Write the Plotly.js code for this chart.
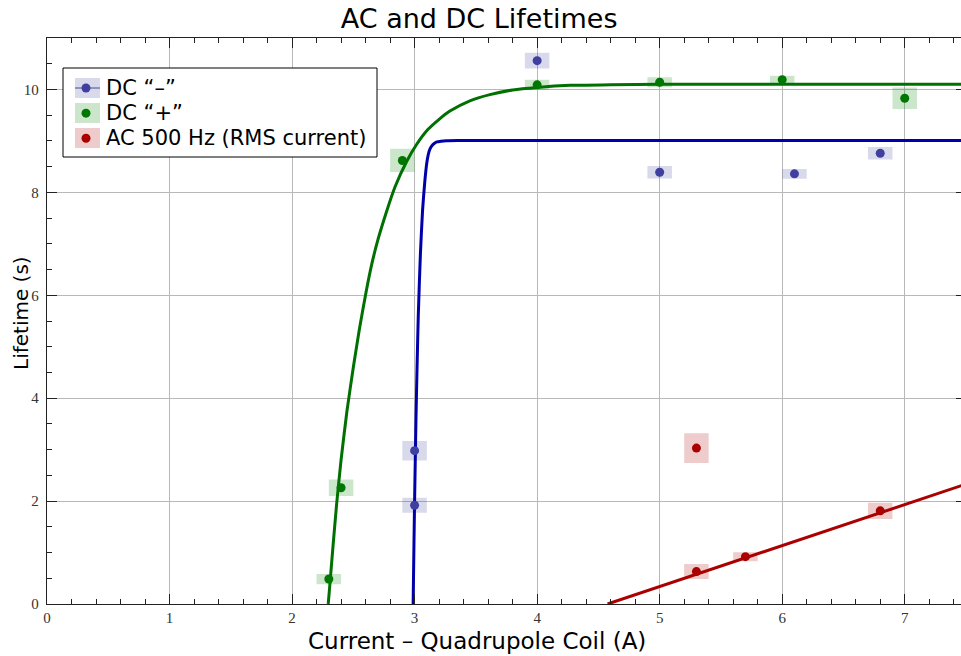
<!DOCTYPE html>
<html><head><meta charset="utf-8">
<script src="https://cdn.plot.ly/plotly-3.0.1.min.js"></script>
<style>html,body{margin:0;padding:0;overflow:hidden;background:#fff}</style>
</head><body><div id="chart"></div>
<script>
// ---- data ----
const dcMinusX = [3.0, 3.0, 4.0, 5.0, 6.1, 6.8];
const dcMinusY = [2.98, 1.92, 10.56, 8.39, 8.36, 8.76];
const dcMinusXErr = [0.1, 0.1, 0.1, 0.1, 0.1, 0.1];
const dcMinusYErr = [0.19, 0.146, 0.155, 0.12, 0.094, 0.123];

const dcPlusX = [2.3, 2.4, 2.9, 4.0, 5.0, 6.0, 7.0];
const dcPlusY = [0.485, 2.26, 8.62, 10.09, 10.14, 10.19, 9.83];
const dcPlusXErr = [0.1, 0.1, 0.1, 0.1, 0.1, 0.1, 0.1];
const dcPlusYErr = [0.10, 0.16, 0.226, 0.10, 0.097, 0.078, 0.21];

const acX = [5.3, 5.3, 5.7, 6.8];
const acY = [3.03, 0.63, 0.92, 1.81];
const acXErr = [0.1, 0.1, 0.1, 0.1];
const acYErr = [0.29, 0.146, 0.087, 0.16];

// fit curves
const fitPlusX = [2.295, 2.303, 2.335, 2.364, 2.40, 2.448, 2.50, 2.55, 2.603, 2.65, 2.703, 2.77, 2.839, 2.935, 3.016, 3.108, 3.20, 3.288, 3.451, 3.614, 3.80, 4.0, 4.27, 4.6, 5.0, 6.0, 7.5];
const fitPlusY = [0.0, 0.22, 1.15, 1.95, 2.8, 3.75, 4.6, 5.35, 6.05, 6.6, 7.1, 7.62, 8.1, 8.6, 8.93, 9.22, 9.42, 9.58, 9.78, 9.9, 9.99, 10.04, 10.08, 10.09, 10.1, 10.1, 10.1];
const fitMinusX = [2.988, 2.995, 3.0, 3.011, 3.02, 3.03, 3.047, 3.065, 3.084, 3.10, 3.112, 3.125, 3.139, 3.16, 3.182, 3.215, 3.26, 3.35, 3.6, 5.0, 7.5];
const fitMinusY = [0.0, 1.2, 2.0, 3.57, 4.6, 5.6, 6.78, 7.65, 8.23, 8.58, 8.74, 8.84, 8.9, 8.95, 8.98, 8.995, 9.005, 9.01, 9.01, 9.01, 9.01];
const fitAcX = [4.575, 7.5];
const fitAcY = [0.0, 2.33];

const names = ['DC “–”', 'DC “+”', 'AC 500 Hz (RMS current)'];
// ---- styles ----
const markerColors = ['#3f3f9f', '#007700', '#aa0000'];
const lineColors = ['#0000aa', '#007000', '#aa0000'];
const boxColors = ['rgba(64,64,160,0.2)', 'rgba(0,128,0,0.2)', 'rgba(170,0,0,0.2)'];

function boxPath(xs, ys, xe, ye) {
  const bx = [], by = [];
  for (let i = 0; i < xs.length; i++) {
    const x0 = xs[i] - xe[i], x1 = xs[i] + xe[i];
    const y0 = ys[i] - ye[i], y1 = ys[i] + ye[i];
    bx.push(x0, x1, x1, x0, x0, null);
    by.push(y0, y0, y1, y1, y0, null);
  }
  return {x: bx, y: by};
}

const series = [
  {x: dcMinusX, y: dcMinusY, xe: dcMinusXErr, ye: dcMinusYErr, fx: fitMinusX, fy: fitMinusY},
  {x: dcPlusX, y: dcPlusY, xe: dcPlusXErr, ye: dcPlusYErr, fx: fitPlusX, fy: fitPlusY},
  {x: acX, y: acY, xe: acXErr, ye: acYErr, fx: fitAcX, fy: fitAcY}
];

const traces = [];
series.forEach((s, i) => {
  const b = boxPath(s.x, s.y, s.xe, s.ye);
  traces.push({x: b.x, y: b.y, type: 'scatter', mode: 'lines', fill: 'toself',
    fillcolor: boxColors[i], line: {width: 0}, showlegend: false, hoverinfo: 'skip'});
});
series.forEach((s, i) => {
  traces.push({x: s.fx, y: s.fy, type: 'scatter', mode: 'lines',
    line: {color: lineColors[i], width: 3, shape: i === 2 ? 'linear' : 'spline', smoothing: 0.6},
    showlegend: false, hoverinfo: 'skip'});
});
series.forEach((s, i) => {
  traces.push({x: s.x, y: s.y, type: 'scatter', mode: 'markers',
    name: '<span style="font-size:21px">' + names[i] + '</span>',
    marker: {color: markerColors[i], size: 9}});
});

// legend backdrop/swatches in paper coordinates (plot area: px 47..966, 38..604)
const W = 966, H = 656, L = 47, T = 38, PW = 919, PH = 566;
const px = v => (v - L) / PW, py = v => (T + PH - v) / PH;
const shapes = [
  {type: 'rect', xref: 'paper', yref: 'paper', x0: px(63), x1: px(377), y0: py(157), y1: py(68),
   fillcolor: '#ffffff', line: {color: '#000', width: 1}, layer: 'above'}
];
const swY = [88, 113, 138];
swY.forEach((c, i) => {
  shapes.push({type: 'rect', xref: 'paper', yref: 'paper', x0: px(75), x1: px(100), y0: py(c + 10), y1: py(c - 10),
    fillcolor: boxColors[i], line: {width: 0}, layer: 'above'});
});
shapes.push({type: 'line', xref: 'paper', yref: 'paper', x0: px(75), x1: px(100), y0: py(swY[0]), y1: py(swY[0]),
  line: {color: '#4a4a90', width: 1}, layer: 'above'});

const tickFont = {family: 'Liberation Serif, Times New Roman, serif', size: 15, color: '#333'};
const layout = {
  width: W, height: H,
  margin: {l: L, r: W - L - PW, t: T, b: H - T - PH, pad: 0},
  paper_bgcolor: '#fff', plot_bgcolor: '#fff',
  font: {family: 'DejaVu Sans, sans-serif', color: '#000'},
  title: {text: 'AC and DC Lifetimes', font: {size: 27, family: 'DejaVu Sans'}, x: 0.496, xref: 'container', y: 0.972, yanchor: 'middle'},
  xaxis: {
    range: [0, 7.5], dtick: 1, tick0: 0, ticks: 'inside', ticklen: 10, tickwidth: 1, tickcolor: '#222',
    showline: true, linecolor: '#222', linewidth: 1.3, mirror: 'ticks',
    showgrid: true, gridcolor: '#b8b8b8', gridwidth: 1, zeroline: false,
    minor: {dtick: 0.2, ticks: 'inside', ticklen: 5, tickcolor: '#222', showgrid: false},
    tickfont: tickFont
  },
  yaxis: {
    range: [0, 11], dtick: 2, tick0: 0, ticks: 'inside', ticklen: 10, tickwidth: 1, tickcolor: '#222',
    showline: true, linecolor: '#222', linewidth: 1.3, mirror: 'ticks',
    showgrid: true, gridcolor: '#b8b8b8', gridwidth: 1, zeroline: false,
    minor: {dtick: 0.5, ticks: 'inside', ticklen: 5, tickcolor: '#222', showgrid: false},
    tickfont: tickFont, ticklabelstandoff: 4
  },
  annotations: [
    {text: 'Current – Quadrupole Coil (A)', xref: 'paper', yref: 'paper', x: px(476.5), y: py(641),
     xanchor: 'center', yanchor: 'middle', showarrow: false, font: {size: 23, family: 'DejaVu Sans'}},
    {text: 'Lifetime (s)', xref: 'paper', yref: 'paper', x: px(21), y: py(313), textangle: -90,
     xanchor: 'center', yanchor: 'middle', showarrow: false, font: {size: 20, family: 'DejaVu Sans'}}
  ],
  showlegend: true,
  legend: {x: px(66), y: py(70.5), xanchor: 'left', yanchor: 'top', bgcolor: 'rgba(0,0,0,0)',
    borderwidth: 0, font: {size: 17, family: 'DejaVu Sans'}, itemclick: false},
  shapes: shapes
};
Plotly.newPlot('chart', traces, layout, {displayModeBar: false, staticPlot: true});
</script>
</body></html>
